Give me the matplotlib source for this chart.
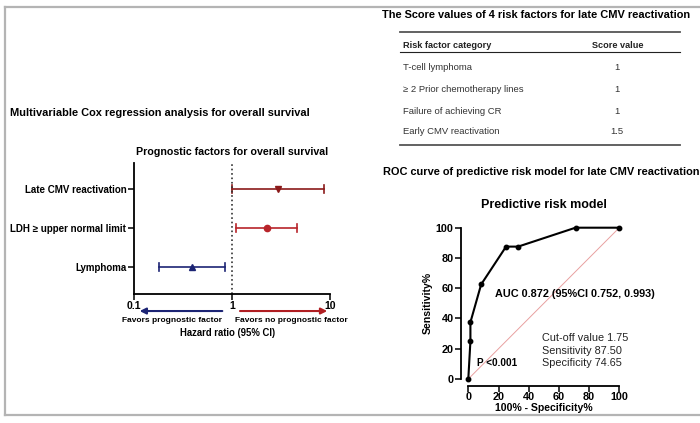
import numpy as np
import matplotlib
matplotlib.use("Agg")
import matplotlib.pyplot as plt
from matplotlib.lines import Line2D

plt.rcParams['font.family'] = ['Liberation Sans', 'DejaVu Sans']

W, H = 700, 423

# forest plot data
factors = ["Late CMV reactivation", "LDH \u2265 upper normal limit", "Lymphoma"]
hr = [2.98, 2.27, 0.39]
hr_low = [1.0, 1.1, 0.18]
hr_high = [8.6, 4.63, 0.85]
hr_colors = ["#8b1a1a", "#b8242a", "#1c2474"]
hr_markers = ["v", "o", "^"]

# score table
risk_factors = ["T-cell lymphoma", "\u2265 2 Prior chemotherapy lines",
                "Failure of achieving CR", "Early CMV reactivation"]
scores = ["1", "1", "1", "1.5"]

# ROC curve
fpr = [0, 1.4, 1.4, 8.5, 25, 33, 71, 100]
tpr = [0, 25, 37.5, 62.5, 87.5, 87.5, 100, 100]


def fx(x):
    return x / W


def fy(y):
    return 1 - y / H


fig = plt.figure(figsize=(7, 4.23), dpi=100)

# frame of the picture
gray = "#b4b4b4"
fig.add_artist(Line2D([fx(5), fx(5)], [fy(7), fy(415)], color=gray, lw=1.6))
fig.add_artist(Line2D([fx(5), 1], [fy(7), fy(7)], color=gray, lw=1.6))
fig.add_artist(Line2D([fx(5), 1], [fy(415), fy(415)], color=gray, lw=1.6))

# ---- forest plot ----
fig.text(fx(10), fy(113), "Multivariable Cox regression analysis for overall survival",
         fontsize=7.9, fontweight="bold", va="center", ha="left")

ax = fig.add_axes([fx(134), fy(294), (330 - 134) / W, (294 - 163) / H])
ypos = [3, 2, 1]
for i in range(3):
    ax.plot([hr_low[i], hr_high[i]], [ypos[i], ypos[i]], color=hr_colors[i], lw=1.2)
    ax.plot([hr_low[i], hr_low[i]], [ypos[i] - 0.1, ypos[i] + 0.1], color=hr_colors[i], lw=1.2)
    ax.plot([hr_high[i], hr_high[i]], [ypos[i] - 0.1, ypos[i] + 0.1], color=hr_colors[i], lw=1.2)
    ax.plot(hr[i], ypos[i], marker=hr_markers[i], color=hr_colors[i], ms=4.5)
ax.axvline(1, color="#333333", ls=":", lw=1.2)
ax.set_xscale("log")
ax.set_xlim(0.1, 10)
ax.set_ylim(0.32, 3.67)
ax.set_xticks([0.1, 1, 10])
ax.set_xticklabels(["0.1", "1", "10"])
ax.xaxis.set_minor_locator(matplotlib.ticker.NullLocator())
ax.set_yticks(ypos)
ax.set_yticklabels(factors)
for s in ["top", "right"]:
    ax.spines[s].set_visible(False)
for s in ["left", "bottom"]:
    ax.spines[s].set_linewidth(1.3)
ax.tick_params(axis="both", length=4, width=1.1, labelsize=7, pad=1.5)
ax.tick_params(axis="x", labelsize=7.5, pad=1)
for lab in ax.get_xticklabels() + ax.get_yticklabels():
    lab.set_fontweight("bold")
ax.set_title("Prognostic factors for overall survival", fontsize=7.7,
             fontweight="bold", pad=6)

tr = ax.get_xaxis_transform()
ax.annotate("", xy=(0.107, -0.13), xytext=(0.85, -0.13), xycoords=tr, textcoords=tr,
            arrowprops=dict(arrowstyle="-|>", color="#1c2474", lw=1.5, mutation_scale=9),
            annotation_clip=False)
ax.annotate("", xy=(10, -0.13), xytext=(1.13, -0.13), xycoords=tr, textcoords=tr,
            arrowprops=dict(arrowstyle="-|>", color="#b01e22", lw=1.5, mutation_scale=9),
            annotation_clip=False)
ax.text(0.245, -0.205, "Favors prognostic factor", transform=tr, ha="center", va="center",
        fontsize=6.05, fontweight="bold")
ax.text(4.0, -0.205, "Favors no prognostic factor", transform=tr, ha="center", va="center",
        fontsize=6.05, fontweight="bold")
ax.text(0.9, -0.30, "Hazard ratio (95% CI)", transform=tr, ha="center", va="center",
        fontsize=6.85, fontweight="bold")

# ---- score table ----
fig.text(fx(382), fy(15), "The Score values of 4 risk factors for late CMV reactivation",
         fontsize=7.95, fontweight="bold", va="center", ha="left")
fig.add_artist(Line2D([fx(400), fx(680)], [fy(32), fy(32)], color="#555555", lw=1.3))
fig.add_artist(Line2D([fx(400), fx(680)], [fy(52), fy(52)], color="#222222", lw=0.8))
fig.add_artist(Line2D([fx(400), fx(680)], [fy(145), fy(145)], color="#555555", lw=1.3))
fig.text(fx(403), fy(45), "Risk factor category", fontsize=6.6, fontweight="bold",
         va="center", ha="left", color="#222222")
fig.text(fx(618), fy(45), "Score value", fontsize=6.6, fontweight="bold",
         va="center", ha="center", color="#222222")
row_y = [67, 89, 111, 132]
for name, sc, yy in zip(risk_factors, scores, row_y):
    fig.text(fx(403), fy(yy), name, fontsize=6.8, va="center", ha="left", color="#333333")
    fig.text(fx(617), fy(yy), sc, fontsize=6.8, va="center", ha="center", color="#333333")

# ---- ROC curve ----
fig.text(fx(383), fy(172), "ROC curve of predictive risk model for late CMV reactivation",
         fontsize=7.9, fontweight="bold", va="center", ha="left")

ax2 = fig.add_axes([fx(468.3), fy(379), 151 / W, 151.3 / H])
ax2.plot([0, 100], [0, 100], color="#e8a0a0", lw=0.7)
ax2.plot(fpr, tpr, color="black", lw=1.5, marker="o", ms=3.2, clip_on=False, zorder=3)
ax2.set_xlim(0, 100)
ax2.set_ylim(0, 100)
ax2.set_xticks(np.arange(0, 101, 20))
ax2.set_yticks(np.arange(0, 101, 20))
for s in ["top", "right"]:
    ax2.spines[s].set_visible(False)
for s in ["left", "bottom"]:
    ax2.spines[s].set_position(("outward", 5))
    ax2.spines[s].set_linewidth(1.3)
ax2.tick_params(axis="both", length=4, width=1.1, labelsize=7.8, pad=1.5)
ax2.tick_params(axis="x", pad=0.3)
for lab in ax2.get_xticklabels() + ax2.get_yticklabels():
    lab.set_fontweight("bold")
ax2.set_title("Predictive risk model", fontsize=9, fontweight="bold", pad=14)
ax2.set_xlabel("100% - Specificity%", fontsize=7.6, fontweight="bold", labelpad=0.5)
ax2.set_ylabel("Sensitivity%", fontsize=7.6, fontweight="bold", labelpad=2)
ax2.text(18, 56, "AUC 0.872 (95%CI 0.752, 0.993)", fontsize=7.8, fontweight="bold",
         va="center", ha="left")
ax2.text(49, 27, "Cut-off value 1.75", fontsize=7.8, va="center", ha="left", color="#222222")
ax2.text(49, 18.5, "Sensitivity 87.50", fontsize=7.8, va="center", ha="left", color="#222222")
ax2.text(49, 10.5, "Specificity 74.65", fontsize=7.8, va="center", ha="left", color="#222222")
ax2.text(6, 10.5, "P <0.001", fontsize=7.2, fontweight="bold", va="center", ha="left")

fig.savefig("out.png", dpi=100)
